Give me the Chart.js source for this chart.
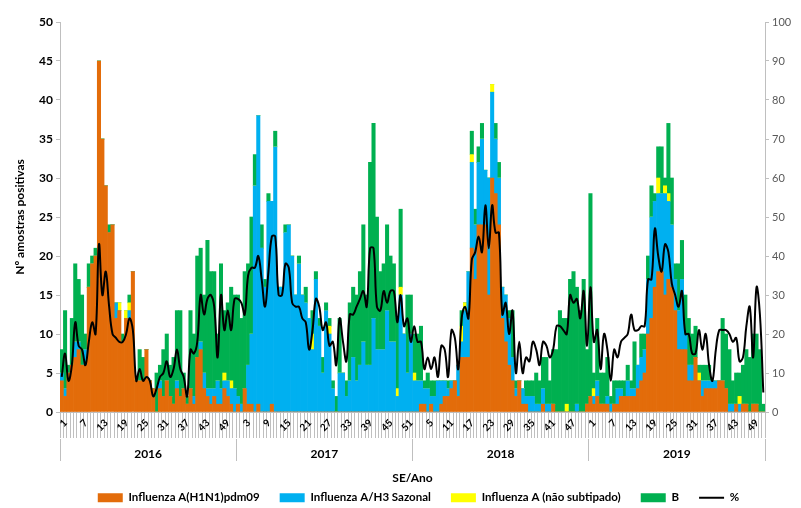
<!DOCTYPE html>
<html>
<head>
<meta charset="utf-8">
<script src="https://cdn.jsdelivr.net/npm/chart.js@4.4.0/dist/chart.umd.min.js"></script>
<style>
  html, body { margin: 0; background: #fff; }
  #wrap { width: 801px; height: 508px; }
</style>
</head>
<body>
<div id="wrap"><canvas id="chart"></canvas></div>
<script>
// categories: epidemiological weeks 1..52 for each year
const years = ['2016', '2017', '2018', '2019'];
const weeksPerYear = 52;
const tickEvery = 6;

// positive samples per week (one line per year)
const h1n1 = [
  4,2,5,6,7,8,6,6,16,19, 20,45,35,29,23,24,12,13,9,12, 12,18,4,4,4,8,4,3,0,3, 2,4,2,1,3,2,3,1,3,1, 7,8,3,2,1,2,1,1,3,2, 1,0,
  1,0,3,1,1,0,1,0,0,0, 1,0,0,0,0,0,0,0,0,0, 0,0,0,0,0,0,0,0,0,0, 0,0,0,0,0,0,0,0,0,0, 0,0,0,0,0,0,0,0,0,0, 0,0,
  0,0,1,1,0,1,0,0,1,2, 2,3,4,2,7,7,7,21,17,24, 24,24,15,30,28,24,12,9,6,4, 2,4,1,1,0,0,0,0,1,0, 0,1,0,0,0,0,0,0,0,0, 0,1,
  2,1,2,1,1,1,0,1,1,2, 2,2,2,2,3,4,5,10,12,16, 18,18,15,17,16,13,8,8,8,4, 4,7,4,2,3,3,3,3,4,4, 3,0,0,1,0,1,1,0,1,1, 0,0
];
const h3 = [
  1,1,0,0,2,1,0,2,0,0, 0,0,0,0,0,0,2,0,0,0, 1,0,0,0,0,0,0,0,0,1, 0,0,0,0,1,0,0,0,0,1, 0,1,2,1,2,1,3,2,1,2, 2,3,
  1,1,0,5,9,29,37,21,16,27, 26,34,16,16,23,24,20,15,19,15, 14,12,8,17,11,5,13,10,3,0, 5,5,2,4,7,4,6,9,6,6, 12,8,8,8,13,9,9,2,15,10, 5,10,
  4,4,3,2,3,1,2,4,3,2, 1,1,0,4,2,6,11,11,7,8, 11,7,15,11,7,6,4,6,6,3, 1,0,2,1,2,2,1,1,2,1, 1,0,0,0,0,0,0,0,1,0, 0,0,
  0,1,2,0,0,1,1,0,2,1, 0,2,1,1,3,3,3,7,13,11, 10,10,13,10,8,4,5,9,2,2, 2,0,0,2,1,1,1,1,0,0, 0,1,1,0,1,0,0,0,0,0, 0,0
];
const fluANs = [
  0,0,0,0,0,0,0,0,0,0, 0,0,0,0,0,0,0,1,0,1, 1,0,0,0,0,0,0,0,0,0, 0,0,0,0,0,0,0,0,0,0, 0,0,0,0,0,0,0,0,1,0, 1,0,
  0,0,0,0,0,0,0,0,0,0, 0,0,0,0,0,0,0,0,0,0, 0,0,2,0,0,0,0,1,0,0, 0,0,0,0,0,0,0,0,0,0, 0,0,0,0,0,0,0,1,1,0, 0,0,
  1,0,0,0,0,0,0,0,0,0, 0,0,0,0,2,1,0,1,0,0, 0,0,0,1,0,0,0,0,0,0, 0,0,0,0,0,0,0,0,0,0, 0,0,0,0,0,1,0,0,0,0, 0,0,
  0,1,0,0,0,0,0,0,0,0, 0,0,0,0,0,0,0,0,0,0, 2,0,1,1,0,0,0,0,0,0, 0,0,1,0,0,0,0,0,0,0, 0,0,0,0,1,0,0,0,0,0, 0,0
];
const fluB = [
  3,10,1,6,10,8,9,2,3,1, 1,0,0,0,1,0,0,0,1,0, 1,0,0,4,3,0,0,0,5,2, 6,6,4,6,9,11,2,1,10,8, 13,12,10,19,15,15,6,16,8,10, 12,12,
  13,11,15,13,15,4,0,3,1,1, 0,2,0,0,1,0,0,0,1,0, 2,0,3,1,1,2,1,1,1,2, 7,0,2,10,9,11,12,15,9,26, 25,17,10,11,11,11,10,9,10,0, 10,5,
  5,6,7,1,2,2,2,0,0,0, 1,0,0,0,2,0,0,3,2,2, 2,0,0,0,2,2,0,0,1,6, 1,0,0,2,2,2,4,3,4,6, 3,7,8,13,12,11,17,18,15,13, 17,7,
  26,2,8,4,4,5,1,3,1,1, 2,2,1,6,0,3,2,3,4,1, 4,6,1,9,6,2,6,5,5,6, 4,4,1,2,2,2,0,0,0,8, 7,7,3,4,3,5,7,7,9,9, 8,1
];
// percentage of positive samples (right axis)
const positivity = [
  9,15,8,12,23,17,16,12,18,23, 20,43,30,36,27,20,19,18,18,20, 24,21,8,11,8,9,8,4,6,9, 10,13,9,11,16,11,9,4,16,15, 18,30,25,29,30,27,14,30,21,26, 21,29,
  29,28,25,35,37,37,40,34,27,36, 45,45,30,30,38,37,28,27,27,24, 23,16,21,29,27,21,23,17,18,12, 24,18,13,25,25,27,29,31,27,42, 42,27,26,31,28,31,31,23,30,22, 24,18,
  22,18,18,11,14,11,14,9,17,16, 9,21,19,11,24,27,24,39,41,45, 41,53,42,53,46,46,25,28,20,26, 10,18,10,14,13,18,16,12,18,17, 14,16,22,22,21,20,30,28,29,24, 31,17,
  32,18,21,11,20,16,8,16,14,18, 19,20,25,21,21,22,22,34,34,47, 40,36,43,41,33,30,27,31,20,20, 15,15,21,16,20,12,8,16,21,21, 21,20,18,19,13,14,22,27,14,32, 25,5
];

const weekLabels = [];
const yearOfWeek = [];
years.forEach(y => {
  for (let w = 1; w <= weeksPerYear; w++) {
    weekLabels.push(String(w));
    yearOfWeek.push(y);
  }
});

Chart.defaults.font.family = 'Lato, "Open Sans", sans-serif';
Chart.defaults.color = '#000';

const gray = '#bfbfbf';

// keep the legend strip short and nudge it like the original
const legendTweak = {
  id: 'legendTweak',
  beforeInit(chart) {
    const legend = chart.legend;
    const fit = legend.fit;
    legend.fit = function () {
      fit.call(this);
      this.height = 28;
    };
    const draw = legend._draw;
    legend._draw = function () {
      const ctx = this.ctx;
      ctx.save();
      ctx.translate(18, -8);
      draw.call(this);
      ctx.restore();
    };
  }
};

const barOpts = { stack: 's', order: 1, barPercentage: 1, categoryPercentage: 1, borderWidth: 0 };

new Chart(document.getElementById('chart'), {
  type: 'bar',
  data: {
    labels: weekLabels,
    datasets: [
      { ...barOpts, label: 'Influenza A(H1N1)pdm09', data: h1n1, backgroundColor: '#E36C0A' },
      { ...barOpts, label: 'Influenza A/H3 Sazonal', data: h3, backgroundColor: '#00B0F0' },
      { ...barOpts, label: 'Influenza A (não subtipado)', data: fluANs, backgroundColor: '#FFFF00' },
      { ...barOpts, label: 'B', data: fluB, backgroundColor: '#00B050' },
      {
        type: 'line', label: '%', data: positivity, yAxisID: 'y2', order: 0,
        borderColor: '#000', backgroundColor: '#000', borderWidth: 2,
        pointRadius: 0, tension: 0.4
      }
    ]
  },
  options: {
    responsive: true,
    maintainAspectRatio: false,
    animation: false,
    layout: { padding: { top: 22, left: 0, right: 0, bottom: 0 } },
    plugins: {
      tooltip: { enabled: false },
      legend: {
        position: 'bottom',
        labels: {
          usePointStyle: true,
          pointStyleWidth: 25,
          boxHeight: 9,
          padding: 20,
          font: { size: 11.5, weight: 'bold' },
          generateLabels: chart => Chart.defaults.plugins.legend.labels.generateLabels(chart)
            .sort((a, b) => a.datasetIndex - b.datasetIndex)
            .map(item => Object.assign(item, { pointStyle: item.datasetIndex === 4 ? 'line' : 'rect' }))
        }
      }
    },
    scales: {
      x: {
        stacked: true,
        weight: 0,
        grid: { drawOnChartArea: false, color: gray, tickLength: 26, offset: true },
        border: { color: gray },
        ticks: {
          autoSkip: false, minRotation: 45, maxRotation: 45,
          padding: -21, labelOffset: 4,
          font: { size: 10, weight: 'bold' },
          callback: (v, i) => i % tickEvery === 0 ? weekLabels[i] : ''
        },
        afterFit: s => { s.height = 27; }
      },
      year: {
        type: 'category',
        position: 'bottom',
        weight: 1,
        labels: yearOfWeek,
        offset: true,
        grid: {
          drawOnChartArea: false, tickLength: 22, offset: true,
          color: c => (c.index === undefined || c.index % weeksPerYear === 0) ? gray : 'rgba(0,0,0,0)'
        },
        border: { display: false },
        ticks: {
          autoSkip: false, minRotation: 0, maxRotation: 0,
          padding: -14, labelOffset: -1.7,
          font: { size: 12, weight: 'bold' },
          callback: (v, i) => i % weeksPerYear === 26 ? yearOfWeek[i] : ''
        },
        title: { display: true, text: 'SE/Ano', font: { size: 12, weight: 'bold' }, padding: { top: 0, bottom: -5 } },
        afterFit: s => { s.height = 41; }
      },
      y: {
        position: 'left',
        stacked: true,
        min: 0, max: 50,
        grid: { drawOnChartArea: false, tickLength: 4, color: gray },
        border: { color: gray },
        ticks: { stepSize: 5, padding: 3, font: { size: 12, weight: 'bold' } },
        title: { display: true, text: 'Nº amostras positivas', font: { size: 12, weight: 'bold' }, padding: { top: 13, bottom: 0 } },
        afterFit: s => { s.width = 60; }
      },
      y2: {
        position: 'right',
        min: 0, max: 100,
        grid: { drawOnChartArea: false, tickLength: 4, color: gray },
        border: { color: gray },
        ticks: { stepSize: 10, padding: 3, color: '#595959', font: { size: 11 } },
        afterFit: s => { s.width = 36; }
      }
    }
  },
  plugins: [legendTweak]
});
</script>
</body>
</html>
